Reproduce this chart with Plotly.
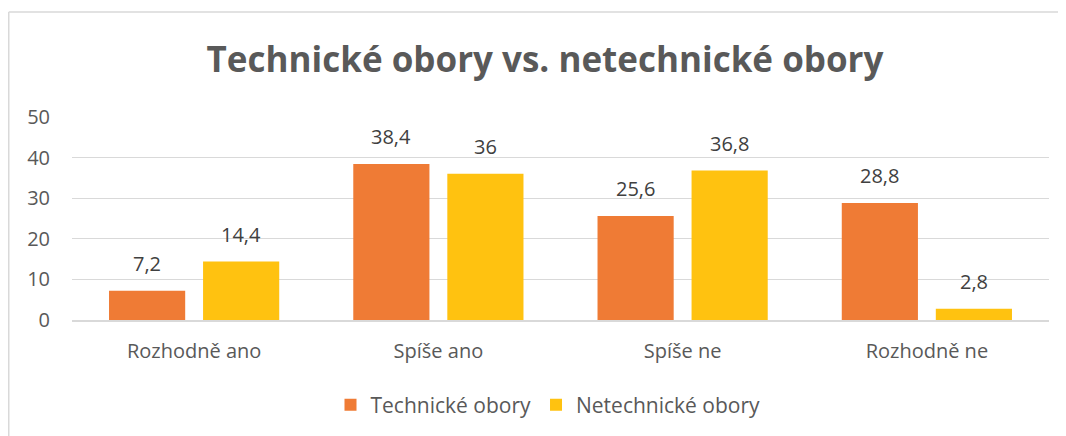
import plotly.graph_objects as go

categories = ["Rozhodně ano", "Spíše ano", "Spíše ne", "Rozhodně ne"]
technicke = [7.2, 38.4, 25.6, 28.8]
netechnicke = [14.4, 36, 36.8, 2.8]
labels_t = ["7,2", "38,4", "25,6", "28,8"]
labels_n = ["14,4", "36", "36,8", "2,8"]
series_names = ["Technické obory", "Netechnické obory"]
y_ticks = [0, 10, 20, 30, 40, 50]

# page has an 8px body margin, so the figure is a bit smaller than the window
OFF = 8
W, H = 1066 - OFF, 436 - OFF
# plot area in page pixels: x 72..1049, y 117..320
L, R, T, B = 72 - OFF, W - (1049 - OFF), 117 - OFF, H - (320 - OFF)
pw, ph = W - L - R, H - T - B

def px_x(p):  # page px -> paper x
    return (p - OFF - L) / pw

def px_y(p):  # page px -> paper y
    return (H - B - (p - OFF)) / ph

FONT = "Open Sans"
TXT = "#595959"
LBL = "#404040"

fig = go.Figure()
fig.add_trace(go.Bar(
    x=categories, y=technicke, name=series_names[0],
    marker=dict(color="#EF7B35", line=dict(width=0)),
))
fig.add_trace(go.Bar(
    x=categories, y=netechnicke, name=series_names[1],
    marker=dict(color="#FFC210", line=dict(width=0)),
))

# data labels above each bar (offset left / right for the two series)
slot = pw / len(categories) * (1 - 0.23) / 2
annotations = []
for cat, v, t in zip(categories, technicke, labels_t):
    annotations.append(dict(x=cat, y=v, text=t, xref="x", yref="y", showarrow=False,
                            xshift=-slot / 2, yshift=12, yanchor="bottom",
                            font=dict(family=FONT, size=20, color=LBL)))
for cat, v, t in zip(categories, netechnicke, labels_n):
    annotations.append(dict(x=cat, y=v, text=t, xref="x", yref="y", showarrow=False,
                            xshift=slot / 2, yshift=12, yanchor="bottom",
                            font=dict(family=FONT, size=20, color=LBL)))

fig.update_layout(
    width=W, height=H,
    margin=dict(l=L, r=R, t=T, b=B, autoexpand=False),
    paper_bgcolor="white", plot_bgcolor="white",
    barmode="group", bargap=0.23, bargroupgap=0.19,
    font=dict(family=FONT, color=TXT),
    title=dict(
        text="<b>Technické obory vs. netechnické obory</b>",
        font=dict(family=FONT, size=35, color=TXT),
        x=(545 - OFF) / W, xanchor="center", xref="container",
        y=1 - (60 - OFF) / H, yanchor="middle", yref="container",
    ),
    legend=dict(
        orientation="h", x=px_x(548), xanchor="center",
        y=px_y(405), yanchor="middle",
        font=dict(family=FONT, size=21, color=TXT),
    ),
    annotations=annotations,
    showlegend=True,
    shapes=[
        dict(type="line", xref="paper", yref="paper",
             x0=px_x(8.75), x1=px_x(1100), y0=px_y(12), y1=px_y(12),
             line=dict(color="#D9D9D9", width=1.5)),
        dict(type="line", xref="paper", yref="paper",
             x0=px_x(8.75), x1=px_x(8.75), y0=px_y(12), y1=px_y(460),
             line=dict(color="#D9D9D9", width=1.5)),
    ],
)
fig.update_yaxes(
    range=[0, 50], tickvals=y_ticks, showgrid=True, gridcolor="#D9D9D9",
    gridwidth=1, zeroline=False, showline=False, automargin=False,
    tickfont=dict(family=FONT, size=20, color=TXT), ticklabelstandoff=21,
)
fig.update_xaxes(
    showline=True, linecolor="#D9D9D9", linewidth=1.5, automargin=False,
    tickfont=dict(family=FONT, size=20, color=TXT), ticklabelstandoff=12,
)
fig.write_html("out.html")
